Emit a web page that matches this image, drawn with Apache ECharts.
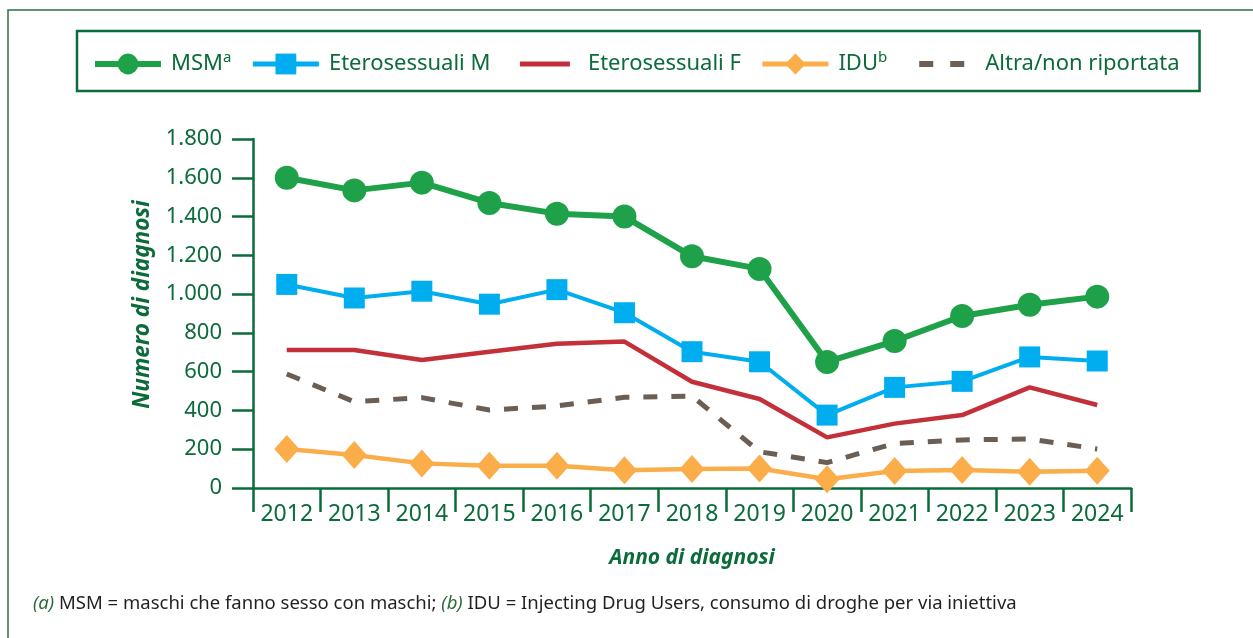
<!DOCTYPE html>
<html>
<head>
<meta charset="utf-8">
<title>Diagnosi per modalità di trasmissione</title>
<script src="https://cdn.jsdelivr.net/npm/echarts@6/dist/echarts.min.js"></script>
<style>
  html, body { margin: 0; padding: 0; background: #fff; }
  #main { width: 1253px; height: 638px; }
</style>
</head>
<body>
<div id="main"></div>
<script>
  // anni e valori
  var anni = ['2012', '2013', '2014', '2015', '2016', '2017', '2018', '2019', '2020', '2021', '2022', '2023', '2024'];
  var msm = [1600, 1535, 1575, 1470, 1415, 1400, 1195, 1130, 650, 758, 887, 945, 987];
  var eteroM = [1050, 980, 1015, 948, 1023, 904, 703, 651, 376, 519, 550, 676, 655];
  var eteroF = [712, 712, 660, 703, 744, 755, 548, 459, 261, 332, 376, 519, 428];
  var idu = [201, 170, 127, 115, 115, 92, 98, 101, 45, 88, 93, 84, 89];
  var altra = [588, 445, 466, 402, 423, 468, 474, 187, 131, 230, 248, 253, 201];
  var yTicks = { min: 0, max: 1800, interval: 200 };

  var verde = '#0b6b3a';
  var font = 'Noto Sans';
  var colori = {
    msm: '#1fa14a',
    eteroM: '#00aeef',
    eteroF: '#c3303a',
    idu: '#fbad4a',
    altra: '#6b5e55'
  };

  var myChart = echarts.init(document.getElementById('main'));

  // numeri con il punto delle migliaia
  function fmt(v) {
    return String(v).replace(/\B(?=(\d{3})+(?!\d))/g, '.');
  }

  var legendNames = {
    'MSM': '{t|MSM}{s|a}',
    'Eterosessuali M': '{t|Eterosessuali M}',
    'Eterosessuali F': '{t|Eterosessuali F}',
    'IDU': '{t|IDU}{s|b}',
    'Altra/non riportata': '{t|Altra/non riportata}'
  };

  // nella legenda le serie senza simbolo: simbolo trasparente
  var noSymbol = { color: 'rgba(0,0,0,0)', borderWidth: 0 };

  myChart.setOption({
    animation: false,
    textStyle: { fontFamily: font },
    graphic: [
      {
        type: 'rect',
        shape: { x: 8, y: 10, width: 1400, height: 800 },
        style: { fill: 'none', stroke: '#2f7040', lineWidth: 1.5 },
        silent: true
      },
      {
        type: 'text',
        left: 33,
        top: 594,
        style: {
          text: '{a|(a)} MSM = maschi che fanno sesso con maschi; {a|(b)} IDU = Injecting Drug Users, consumo di droghe per via iniettiva',
          font: '18.5px "Noto Sans"',
          fill: '#231f20',
          rich: {
            a: { fontFamily: font, fontSize: 18.5, fontStyle: 'italic', fill: '#2e6b3a', color: '#2e6b3a' }
          }
        }
      }
    ],
    legend: {
      left: 77,
      top: 31,
      padding: [19, 20, 16, 15],
      borderColor: verde,
      borderWidth: 2.5,
      itemWidth: 66,
      itemHeight: 26,
      itemGap: 19,
      data: [
        { name: 'MSM', lineStyle: { width: 6 } },
        { name: 'Eterosessuali M', lineStyle: { width: 5 } },
        { name: 'Eterosessuali F', itemStyle: noSymbol, lineStyle: { width: 5, type: [50, 100], dashOffset: 142 } },
        { name: 'IDU', lineStyle: { width: 5 } },
        { name: 'Altra/non riportata', itemStyle: noSymbol, lineStyle: { width: 6, type: [14, 17], dashOffset: 21 } }
      ],
      formatter: function (name) {
        return legendNames[name];
      },
      textStyle: {
        rich: {
          t: { fontFamily: font, fontSize: 22, color: verde, lineHeight: 28, padding: [0, 0, 0, 5] },
          s: { fontFamily: font, fontSize: 15, color: verde, lineHeight: 16, verticalAlign: 'top' }
        }
      }
    },
    grid: {
      left: 253,
      right: 122,
      top: 139,
      bottom: 150
    },
    xAxis: {
      type: 'category',
      data: anni,
      boundaryGap: true,
      name: 'Anno di diagnosi',
      nameLocation: 'middle',
      nameGap: 60,
      nameTextStyle: { color: verde, fontSize: 21, fontWeight: 'bold', fontStyle: 'italic', fontFamily: font },
      axisLine: { lineStyle: { color: verde, width: 2.5 } },
      axisTick: { show: true, interval: 0, length: 24, lineStyle: { color: verde, width: 2.5 } },
      axisLabel: { color: verde, fontSize: 23, margin: 15, interval: 0, fontFamily: font }
    },
    yAxis: {
      type: 'value',
      min: yTicks.min,
      max: yTicks.max,
      interval: yTicks.interval,
      name: 'Numero di diagnosi',
      nameLocation: 'middle',
      nameGap: 99,
      nameTextStyle: { color: verde, fontSize: 22.5, fontWeight: 'bold', fontStyle: 'italic', fontFamily: font, padding: [0, 0, 0, 18] },
      axisLine: { show: true, lineStyle: { color: verde, width: 2.5 } },
      axisTick: { show: true, length: 21, lineStyle: { color: verde, width: 2.5 } },
      splitLine: { show: false },
      axisLabel: { color: verde, fontSize: 22, margin: 31, fontFamily: font, formatter: fmt }
    },
    series: [
      {
        name: 'Altra/non riportata',
        type: 'line',
        data: altra,
        symbol: 'none',
        lineStyle: { color: colori.altra, width: 5, type: [14, 14] },
        itemStyle: { color: colori.altra },
        z: 2
      },
      {
        name: 'Eterosessuali F',
        type: 'line',
        data: eteroF,
        symbol: 'none',
        lineStyle: { color: colori.eteroF, width: 4.5 },
        itemStyle: { color: colori.eteroF },
        z: 3
      },
      {
        name: 'IDU',
        type: 'line',
        data: idu,
        symbol: 'diamond',
        symbolSize: [25, 28],
        lineStyle: { color: colori.idu, width: 4.5 },
        itemStyle: { color: colori.idu },
        z: 4
      },
      {
        name: 'Eterosessuali M',
        type: 'line',
        data: eteroM,
        symbol: 'rect',
        symbolSize: 21,
        lineStyle: { color: colori.eteroM, width: 4 },
        itemStyle: { color: colori.eteroM },
        z: 5
      },
      {
        name: 'MSM',
        type: 'line',
        data: msm,
        symbol: 'circle',
        symbolSize: 24,
        lineStyle: { color: colori.msm, width: 6 },
        itemStyle: { color: colori.msm },
        z: 6
      }
    ]
  });
</script>
</body>
</html>
